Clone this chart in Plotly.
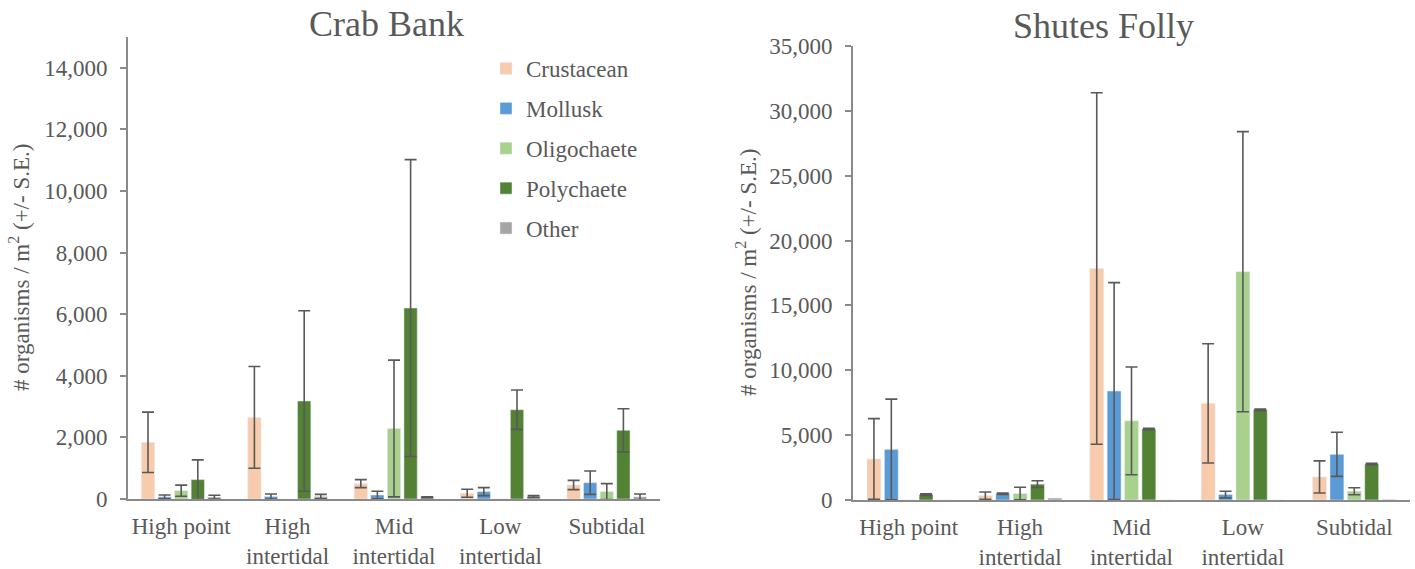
import numpy as np
import plotly.graph_objects as go
from plotly.subplots import make_subplots

categories = ["High point", "High<br>intertidal", "Mid<br>intertidal", "Low<br>intertidal", "Subtidal"]
taxa = ["Crustacean", "Mollusk", "Oligochaete", "Polychaete", "Other"]
colors = ["#F8CBAD", "#5B9BD5", "#A9D18E", "#548235", "#A5A5A5"]

# Crab Bank: means and standard errors per taxon
crab_crustacean = [1840, 2650, 500, 185, 455]
crab_mollusk = [70, 80, 130, 240, 530]
crab_oligochaete = [270, 0, 2290, 0, 240]
crab_polychaete = [630, 3180, 6200, 2900, 2230]
crab_other = [60, 80, 60, 80, 70]
crab_crustacean_se = [980, 1650, 130, 130, 150]
crab_mollusk_se = [60, 80, 120, 130, 380]
crab_oligochaete_se = [180, 0, 2220, 0, 260]
crab_polychaete_se = [640, 2930, 4820, 640, 700]
crab_other_se = [60, 70, 15, 30, 90]

# Shutes Folly
shutes_crustacean = [3160, 340, 17850, 7450, 1780]
shutes_mollusk = [3900, 480, 8400, 420, 3520]
shutes_oligochaete = [0, 500, 6100, 17600, 680]
shutes_polychaete = [420, 1220, 5470, 6950, 2770]
shutes_other = [0, 150, 0, 0, 40]
shutes_crustacean_se = [3110, 280, 13550, 4600, 1240]
shutes_mollusk_se = [3880, 60, 8360, 260, 1700]
shutes_oligochaete_se = [0, 480, 4150, 10800, 270]
shutes_polychaete_se = [60, 260, 60, 60, 60]
shutes_other_se = [0, 0, 0, 0, 0]

crab_vals = [crab_crustacean, crab_mollusk, crab_oligochaete, crab_polychaete, crab_other]
crab_errs = [crab_crustacean_se, crab_mollusk_se, crab_oligochaete_se, crab_polychaete_se, crab_other_se]
shutes_vals = [shutes_crustacean, shutes_mollusk, shutes_oligochaete, shutes_polychaete, shutes_other]
shutes_errs = [shutes_crustacean_se, shutes_mollusk_se, shutes_oligochaete_se, shutes_polychaete_se, shutes_other_se]

W, H = 1415, 569
FONT = "Liberation Serif, Times New Roman, DejaVu Serif, serif"
TXT = "#595959"
AX = "#8a8a8a"


def err(errs):
    # no error bar drawn where the error is zero
    return np.array([e if e > 0 else np.nan for e in errs], dtype=float)


fig = make_subplots(rows=1, cols=2)

for i, name in enumerate(taxa):
    fig.add_trace(go.Bar(
        x=categories, y=crab_vals[i], name=name, marker_color=colors[i],
        legendgroup=name, showlegend=True,
        error_y=dict(type="data", array=err(crab_errs[i]),
                     color="#595959", thickness=1.6, width=6),
    ), row=1, col=1)
for i, name in enumerate(taxa):
    fig.add_trace(go.Bar(
        x=categories, y=shutes_vals[i], name=name, marker_color=colors[i],
        legendgroup=name, showlegend=False,
        error_y=dict(type="data", array=err(shutes_errs[i]),
                     color="#595959", thickness=1.6, width=6),
    ), row=1, col=2)


def px_x(p):
    return p / W


def px_y(p):
    return (H - p) / H


common_x = dict(showline=True, linecolor=AX, linewidth=2, ticks="", showgrid=False,
                tickfont=dict(family=FONT, size=23, color=TXT), automargin=False,
                ticklabelstandoff=5)
common_y = dict(showline=True, linecolor=AX, linewidth=2, ticks="outside", ticklen=6,
                tickcolor=AX, tickwidth=2, showgrid=False, zeroline=False, tickformat=",",
                tickfont=dict(family=FONT, size=23, color=TXT), automargin=False,
                ticklabelstandoff=8)

fig.update_layout(
    width=W, height=H,
    margin=dict(l=0, r=0, t=0, b=0),
    plot_bgcolor="white", paper_bgcolor="white",
    barmode="group", bargap=0.22, bargroupgap=0.2,
    font=dict(family=FONT, color=TXT),
    xaxis=dict(domain=[px_x(128), px_x(660)], **common_x),
    xaxis2=dict(domain=[px_x(853), px_x(1410)], **common_x),
    yaxis=dict(domain=[px_y(499), px_y(37)], range=[0, 15000], dtick=2000, **common_y),
    yaxis2=dict(domain=[px_y(500), px_y(46)], range=[0, 35000], dtick=5000, **common_y),
    legend=dict(x=px_x(486), y=px_y(47), xanchor="left", yanchor="top",
                font=dict(family=FONT, size=23, color=TXT), tracegroupgap=7,
                bgcolor="rgba(0,0,0,0)"),
    showlegend=True,
)

ytitle = "# organisms / m<sup>2</sup> (+/- S.E.)"
ann_font = dict(family=FONT, size=23, color=TXT)
fig.add_annotation(text=ytitle, x=px_x(19), y=px_y(268), xref="paper", yref="paper",
                   xanchor="center", yanchor="middle",
                   textangle=-90, showarrow=False, font=ann_font)
fig.add_annotation(text=ytitle, x=px_x(746), y=px_y(273), xref="paper", yref="paper",
                   xanchor="center", yanchor="middle",
                   textangle=-90, showarrow=False, font=ann_font)
fig.add_annotation(text="Crab Bank", x=px_x(386), y=px_y(24), xref="paper", yref="paper",
                   xanchor="center", yanchor="middle",
                   showarrow=False, font=dict(family=FONT, size=36, color=TXT))
fig.add_annotation(text="Shutes Folly", x=px_x(1103), y=px_y(26), xref="paper", yref="paper",
                   xanchor="center", yanchor="middle",
                   showarrow=False, font=dict(family=FONT, size=36, color=TXT))

fig.write_html("out.html", config={"displayModeBar": False},
               post_script="document.body.style.margin='0px';")
